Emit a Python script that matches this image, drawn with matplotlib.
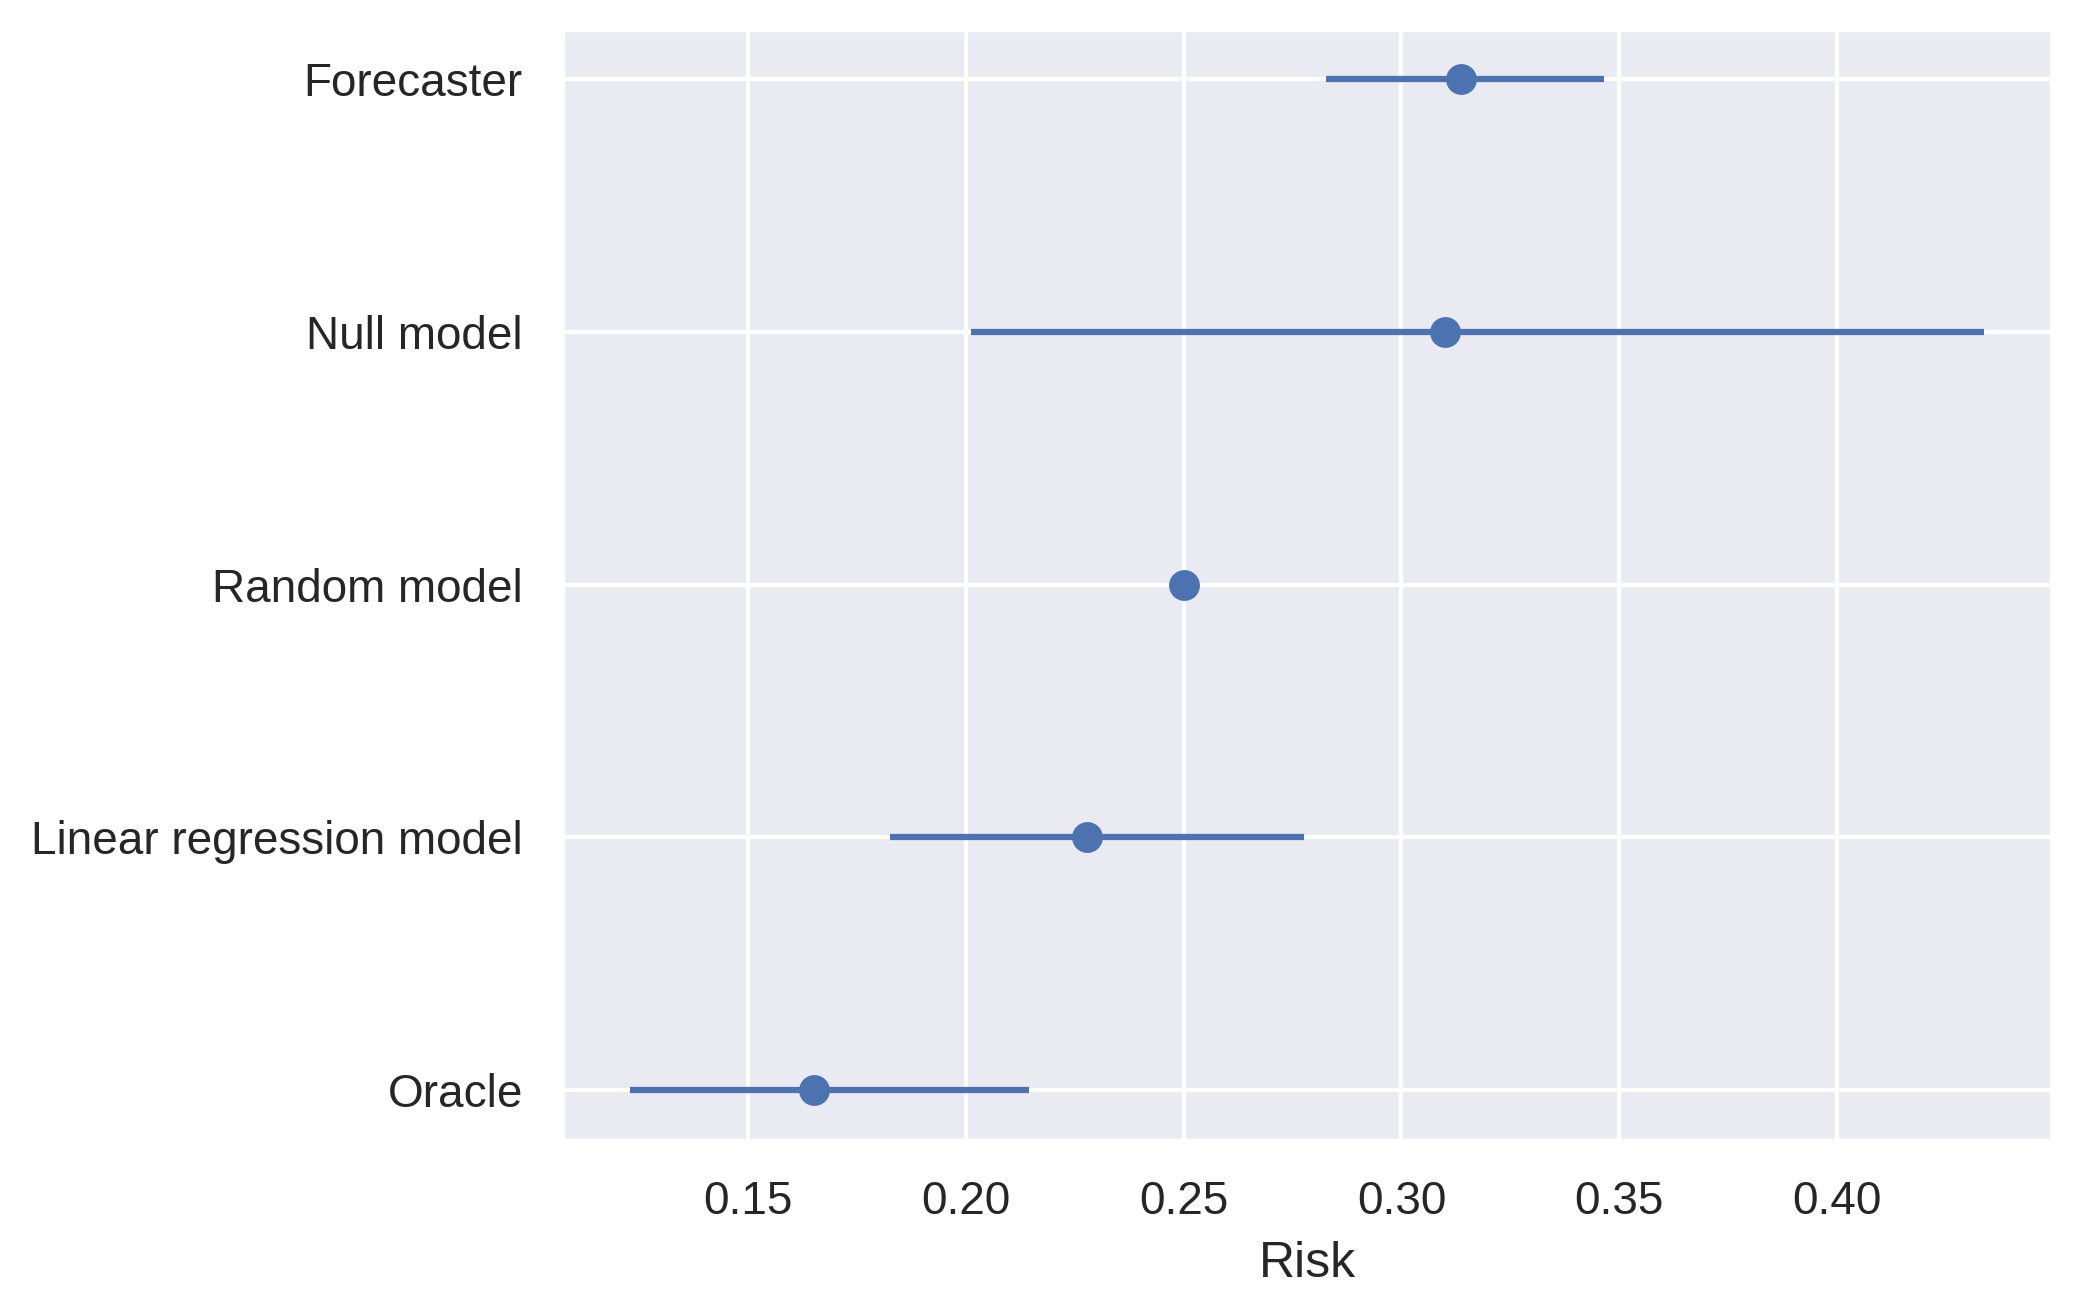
import numpy as np
import matplotlib
matplotlib.use("Agg")
import matplotlib.pyplot as plt
import seaborn as sns

# risk estimates with interval bounds
models = ["Forecaster", "Null model", "Random model", "Linear regression model", "Oracle"]
risk = [0.3137, 0.3100, 0.2500, 0.2277, 0.1652]
low = [0.2826, 0.2012, 0.2500, 0.1826, 0.1229]
high = [0.3466, 0.4338, 0.2500, 0.2777, 0.2146]

sns.set_theme(style="darkgrid")
plt.rcParams["font.family"] = ["Liberation Sans", "DejaVu Sans"]

fig, ax = plt.subplots(figsize=(6.93, 4.38))
fig.subplots_adjust(left=0.2705, right=0.987, top=0.978, bottom=0.132)

risk = np.array(risk); low = np.array(low); high = np.array(high)
ypos = np.arange(len(models))
ax.errorbar(risk, ypos, xerr=[risk - low, high - risk], fmt="o",
            color=sns.color_palette("deep")[0], markersize=6.4,
            elinewidth=1.5, capsize=0)
ax.set_yticks(ypos)
ax.set_yticklabels(models)
ax.invert_yaxis()
ax.set_xlabel("Risk")
fig.savefig("out.png", dpi=300)
